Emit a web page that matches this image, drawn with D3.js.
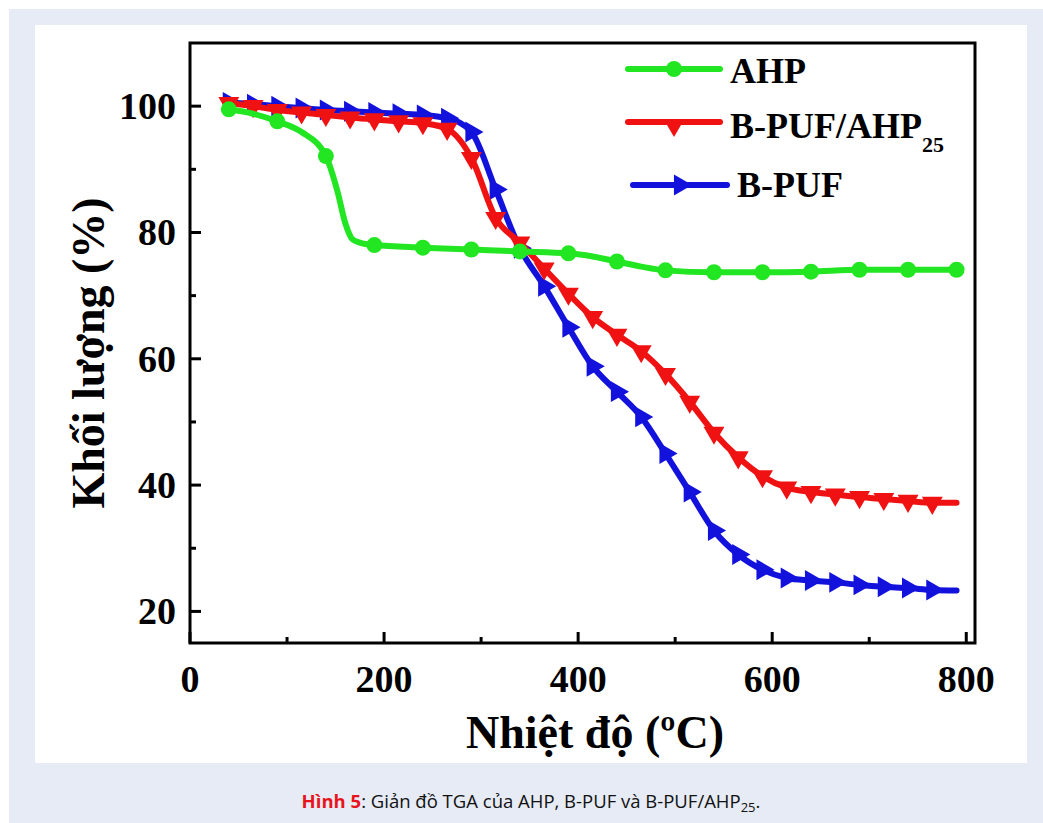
<!DOCTYPE html>
<html lang="vi">
<head>
<meta charset="UTF-8">
<title>TGA</title>
<script src="https://d3js.org/d3.v7.min.js"></script>
<style>
  body { margin: 0; background: #fff; }
</style>
</head>
<body>
<div id="chart"></div>
<script>
// temperature (oC) and remaining mass (%)
var ahpTemp = [40, 65, 90, 115, 140, 152, 160, 167, 175, 190, 240, 290, 340, 390, 415, 440, 465, 490, 540, 590, 640, 690, 740, 790];
var ahpMass = [99.5, 98.8, 97.6, 95.9, 92.1, 86.5, 81.5, 79.0, 78.4, 78.0, 77.6, 77.3, 77.0, 76.7, 76.2, 75.4, 74.6, 74.0, 73.7, 73.7, 73.8, 74.1, 74.1, 74.1];
var ahpMarks = [40, 90, 140, 190, 240, 290, 340, 390, 440, 490, 540, 590, 640, 690, 740, 790];

var pufTemp = [40, 65, 90, 115, 140, 165, 190, 215, 240, 265, 290, 315, 340, 365, 390, 415, 440, 465, 490, 515, 540, 565, 590, 615, 640, 665, 690, 715, 740, 765, 790];
var pufAhpMass = [100.5, 100.0, 99.4, 99.0, 98.6, 98.2, 97.9, 97.6, 97.3, 96.4, 91.8, 82.3, 78.4, 74.3, 70.3, 66.6, 63.8, 61.2, 57.6, 53.2, 48.3, 44.4, 41.4, 39.6, 38.9, 38.5, 38.1, 37.8, 37.5, 37.2, 37.2];
var pufMass = [100.6, 100.3, 100.0, 99.7, 99.4, 99.2, 99.0, 98.8, 98.6, 98.1, 95.9, 86.8, 77.5, 71.5, 65.0, 58.8, 54.8, 50.8, 45.0, 38.9, 32.8, 29.0, 26.6, 25.3, 24.9, 24.6, 24.2, 23.9, 23.7, 23.4, 23.3];
var pufMarks = pufTemp.slice(0, pufTemp.length - 1);

var xTicks = [0, 200, 400, 600, 800];
var xMinor = [100, 300, 500, 700];
var yTicks = [20, 40, 60, 80, 100];
var yMinor = [30, 50, 70, 90];

var W = 1043, H = 823;
var serif = "'Liberation Serif', 'Times New Roman', serif";

var svg = d3.select("#chart").append("svg")
    .attr("width", W)
    .attr("height", H);

// page background + white panel
svg.append("rect").attr("x", 9).attr("y", 9).attr("width", W - 9).attr("height", H - 9).attr("fill", "#e6ebf5");
svg.append("rect").attr("x", 35).attr("y", 25).attr("width", 992).attr("height", 738).attr("fill", "#fff");

var plotL = 190, plotR = 975, plotT = 43, plotB = 643;

var x = d3.scaleLinear().domain([0, 809]).range([plotL, plotR]);
var y = d3.scaleLinear().domain([15, 110]).range([plotB, plotT]);

var g = svg.append("g");

// inward ticks
g.selectAll(".xt").data(xTicks).enter().append("line")
  .attr("x1", d => x(d)).attr("x2", d => x(d))
  .attr("y1", plotB).attr("y2", plotB - 11)
  .attr("stroke", "#000").attr("stroke-width", 3);
g.selectAll(".xm").data(xMinor).enter().append("line")
  .attr("x1", d => x(d)).attr("x2", d => x(d))
  .attr("y1", plotB).attr("y2", plotB - 6)
  .attr("stroke", "#000").attr("stroke-width", 3);
g.selectAll(".yt").data(yTicks).enter().append("line")
  .attr("y1", d => y(d)).attr("y2", d => y(d))
  .attr("x1", plotL).attr("x2", plotL + 11)
  .attr("stroke", "#000").attr("stroke-width", 3);
g.selectAll(".ym").data(yMinor).enter().append("line")
  .attr("y1", d => y(d)).attr("y2", d => y(d))
  .attr("x1", plotL).attr("x2", plotL + 6)
  .attr("stroke", "#000").attr("stroke-width", 3);

// tick labels
g.selectAll(".xl").data(xTicks).enter().append("text")
  .attr("x", d => x(d)).attr("y", 692)
  .attr("text-anchor", "middle")
  .style("font-family", serif).style("font-weight", "bold").style("font-size", "38px")
  .text(d => d);
g.selectAll(".yl").data(yTicks).enter().append("text")
  .attr("x", 176).attr("y", d => y(d) + 13)
  .attr("text-anchor", "end")
  .style("font-family", serif).style("font-weight", "bold").style("font-size", "38px")
  .text(d => d);

// axis titles
svg.append("text")
  .attr("x", 595).attr("y", 748)
  .attr("text-anchor", "middle")
  .style("font-family", serif).style("font-weight", "bold").style("font-size", "46px")
  .text("Nhiệt độ (ºC)");
svg.append("text")
  .attr("transform", "translate(104,353) rotate(-90)")
  .attr("text-anchor", "middle")
  .style("font-family", serif).style("font-weight", "bold").style("font-size", "46px")
  .text("Khối lượng (%)");

// series
var series = [
  { name: "B-PUF", temp: pufTemp, mass: pufMass, marks: pufMarks, color: "#1212dc", shape: "right" },
  { name: "B-PUF/AHP", temp: pufTemp, mass: pufAhpMass, marks: pufMarks, color: "#f01212", shape: "down" },
  { name: "AHP", temp: ahpTemp, mass: ahpMass, marks: ahpMarks, color: "#22e622", shape: "circle" }
];

var line = d3.line()
  .x(d => x(d[0]))
  .y(d => y(d[1]))
  .curve(d3.curveMonotoneX);

function marker(sel, shape, color) {
  if (shape === "circle") {
    sel.append("circle").attr("r", 8).attr("fill", color);
  } else {
    sel.append("path")
      .attr("d", d3.symbol().type(d3.symbolTriangle).size(190)())
      .attr("transform", shape === "down" ? "rotate(180)" : "rotate(90)")
      .attr("fill", color);
  }
}

series.forEach(function(s) {
  var pts = s.temp.map((t, i) => [t, s.mass[i]]);
  g.append("path")
    .datum(pts)
    .attr("fill", "none")
    .attr("stroke", s.color)
    .attr("stroke-width", 6)
    .attr("stroke-linecap", "round")
    .attr("stroke-linejoin", "round")
    .attr("d", line);
  var mk = pts.filter(p => s.marks.indexOf(p[0]) >= 0);
  g.selectAll(null).data(mk).enter().append("g")
    .attr("transform", d => "translate(" + x(d[0]) + "," + y(d[1]) + ")")
    .each(function() { marker(d3.select(this), s.shape, s.color); });
});

// frame
g.append("rect")
  .attr("x", plotL).attr("y", plotT)
  .attr("width", plotR - plotL).attr("height", plotB - plotT)
  .attr("fill", "none").attr("stroke", "#000").attr("stroke-width", 3);

// legend
var legend = [
  { s: series[2], y: 69, x1: 628, x2: 720, tx: 730, ty: 83 },
  { s: series[1], y: 122, x1: 628, x2: 720, tx: 730, ty: 138, sub: "25" },
  { s: series[0], y: 185, x1: 633, x2: 727, tx: 737, ty: 197 }
];
legend.forEach(function(l) {
  svg.append("line")
    .attr("x1", l.x1).attr("x2", l.x2).attr("y1", l.y).attr("y2", l.y)
    .attr("stroke", l.s.color).attr("stroke-width", 6).attr("stroke-linecap", "round");
  var m = svg.append("g")
    .attr("transform", "translate(" + ((l.x1 + l.x2) / 2) + "," + (l.y + (l.s.shape === "down" ? 3 : 0)) + ")");
  marker(m, l.s.shape, l.s.color);
  var t = svg.append("text")
    .attr("x", l.tx).attr("y", l.ty)
    .style("font-family", serif).style("font-weight", "bold").style("font-size", "36px")
    .text(l.s.name);
  if (l.sub) {
    t.append("tspan").attr("dy", 14).style("font-size", "22px").text(l.sub);
  }
});

// caption
var cap = svg.append("text")
  .attr("x", 531).attr("y", 808)
  .attr("text-anchor", "middle")
  .style("font-family", "'Open Sans', sans-serif").style("font-size", "18.5px")
  .attr("fill", "#111");
cap.append("tspan").attr("fill", "#e8141c").style("font-weight", "bold").text("Hình 5");
cap.append("tspan").text(": Giản đồ TGA của AHP, B-PUF và B-PUF/AHP");
cap.append("tspan").attr("dy", 4).style("font-size", "13px").text("25");
cap.append("tspan").attr("dy", -4).text(".");
</script>
</body>
</html>
